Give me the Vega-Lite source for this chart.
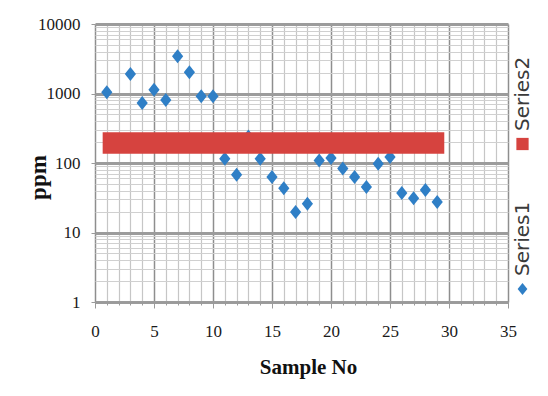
{
  "$schema": "https://vega.github.io/schema/vega-lite/v6.json",
  "padding": {"left": 26, "top": 14, "right": 13, "bottom": 19},
  "background": "white",
  "bounds": "flush",
  "spacing": 2,
  "hconcat": [
    {
      "width": 413,
      "height": 278,
      "data": {
        "values": [
          {"sample": 1, "ppm": 1045, "series": "Series1"},
          {"sample": 3, "ppm": 1910, "series": "Series1"},
          {"sample": 4, "ppm": 727, "series": "Series1"},
          {"sample": 5, "ppm": 1130, "series": "Series1"},
          {"sample": 6, "ppm": 809, "series": "Series1"},
          {"sample": 7, "ppm": 3435, "series": "Series1"},
          {"sample": 8, "ppm": 2025, "series": "Series1"},
          {"sample": 9, "ppm": 915, "series": "Series1"},
          {"sample": 10, "ppm": 915, "series": "Series1"},
          {"sample": 11, "ppm": 115, "series": "Series1"},
          {"sample": 12, "ppm": 68, "series": "Series1"},
          {"sample": 13, "ppm": 240, "series": "Series1"},
          {"sample": 14, "ppm": 115, "series": "Series1"},
          {"sample": 15, "ppm": 63, "series": "Series1"},
          {"sample": 16, "ppm": 43.5, "series": "Series1"},
          {"sample": 17, "ppm": 19.7, "series": "Series1"},
          {"sample": 18, "ppm": 26, "series": "Series1"},
          {"sample": 19, "ppm": 109, "series": "Series1"},
          {"sample": 20, "ppm": 118, "series": "Series1"},
          {"sample": 21, "ppm": 83, "series": "Series1"},
          {"sample": 22, "ppm": 63, "series": "Series1"},
          {"sample": 23, "ppm": 45, "series": "Series1"},
          {"sample": 24, "ppm": 97.5, "series": "Series1"},
          {"sample": 25, "ppm": 122, "series": "Series1"},
          {"sample": 26, "ppm": 37, "series": "Series1"},
          {"sample": 27, "ppm": 31, "series": "Series1"},
          {"sample": 28, "ppm": 41, "series": "Series1"},
          {"sample": 29, "ppm": 27.4, "series": "Series1"},
          {"sample": 0.65, "sample_end": 29.6, "ppm": 136, "ppm_high": 278, "series": "Series2"}
        ]
      },
      "encoding": {
        "x": {
          "field": "sample",
          "type": "quantitative",
          "scale": {"domain": [0, 35], "nice": false, "zero": false},
          "title": "Sample No",
          "axis": {
            "values": [0,1,2,3,4,5,6,7,8,9,10,11,12,13,14,15,16,17,18,19,20,21,22,23,24,25,26,27,28,29,30,31,32,33,34,35],
            "labelExpr": "datum.value % 5 === 0 ? format(datum.value, 'd') : ''",
            "labelOverlap": false,
            "labelBound": false,
            "labelFlush": false,
            "labelFont": "Liberation Serif",
            "labelFontSize": 17,
            "labelColor": "#1a1a1a",
            "labelPadding": 23,
            "labelBaseline": "middle",
            "tickSize": {"condition": {"test": "datum.value % 5 === 0", "value": 6}, "value": 3},
            "tickColor": "#9a9a9a",
            "domainColor": "#9a9a9a",
            "domainWidth": 1.5,
            "grid": true,
            "gridColor": {"condition": {"test": "datum.value % 5 === 0", "value": "#8e8e8e"}, "value": "#c6c6c6"},
            "gridWidth": {"condition": {"test": "datum.value % 5 === 0", "value": 1.5}, "value": 1.2},
            "titleFont": "Liberation Serif",
            "titleFontSize": 21,
            "titleFontWeight": "bold",
            "titleColor": "#111111",
            "titleX": 213,
            "titleY": 65,
            "titleBaseline": "middle",
            "titleAlign": "center"
          }
        },
        "y": {
          "field": "ppm",
          "type": "quantitative",
          "scale": {"type": "log", "domain": [1, 10000], "nice": false},
          "title": "ppm",
          "axis": {
            "values": [1,2,3,4,5,6,7,8,9,10,20,30,40,50,60,70,80,90,100,200,300,400,500,600,700,800,900,1000,2000,3000,4000,5000,6000,7000,8000,9000,10000],
            "labelExpr": "indexof([1,10,100,1000,10000], datum.value) >= 0 ? format(datum.value, 'd') : ''",
            "labelOverlap": false,
            "labelBound": false,
            "labelFlush": false,
            "labelFont": "Liberation Serif",
            "labelFontSize": 17,
            "labelColor": "#1a1a1a",
            "labelPadding": 11,
            "tickSize": 4,
            "tickColor": {"condition": {"test": "indexof([1,10,100,1000,10000], datum.value) >= 0", "value": "#9a9a9a"}, "value": "transparent"},
            "domain": false,
            "grid": true,
            "gridColor": {"condition": {"test": "indexof([1,10,100,1000,10000], datum.value) >= 0", "value": "#9c9c9c"}, "value": "#d0d0d0"},
            "gridWidth": {"condition": {"test": "indexof([1,10,100,1000,10000], datum.value) >= 0", "value": 2.8}, "value": 1.2},
            "titleFont": "Liberation Serif",
            "titleFontSize": 23,
            "titleFontWeight": "bold",
            "titleColor": "#111111",
            "titleX": -57,
            "titleY": 153,
            "titleAngle": 270,
            "titleBaseline": "middle",
            "titleAlign": "center"
          }
        },
        "color": {
          "field": "series",
          "type": "nominal",
          "scale": {"domain": ["Series2", "Series1"], "range": ["#d6433f", "#2f7fc6"]},
          "legend": null
        }
      },
      "layer": [
        {
          "transform": [{"filter": "datum.series === 'Series1'"}],
          "mark": {"type": "point", "filled": true, "opacity": 1, "size": 196},
          "encoding": {
            "shape": {
              "field": "series",
              "type": "nominal",
              "scale": {"domain": ["Series2", "Series1"], "range": ["square", "M0,-1L0.8,0L0,1L-0.8,0Z"]},
              "legend": null
            }
          }
        },
        {
          "transform": [{"filter": "datum.series === 'Series2'"}],
          "mark": {"type": "rect"},
          "encoding": {
            "x2": {"field": "sample_end"},
            "y2": {"field": "ppm_high"}
          }
        }
      ]
    },
    {
      "width": 25,
      "height": 278,
      "view": {"stroke": null},
      "data": {"values": [{"series": "Series2"}, {"series": "Series1"}]},
      "encoding": {
        "y": {
          "field": "series",
          "type": "nominal",
          "scale": {"type": "point", "domain": ["Series2", "Series1"], "range": [120, 265], "padding": 0},
          "axis": null
        }
      },
      "layer": [
        {
          "mark": {"type": "point", "filled": true, "opacity": 1, "size": 150},
          "encoding": {
            "color": {"field": "series", "type": "nominal", "legend": null},
            "shape": {"field": "series", "type": "nominal", "legend": null}
          }
        },
        {
          "mark": {"type": "text", "angle": 270, "align": "left", "baseline": "middle", "dx": 13, "font": "DejaVu Sans", "fontSize": 20, "color": "#3a3a3a"},
          "encoding": {
            "text": {"field": "series", "type": "nominal"}
          }
        }
      ]
    }
  ]
}
